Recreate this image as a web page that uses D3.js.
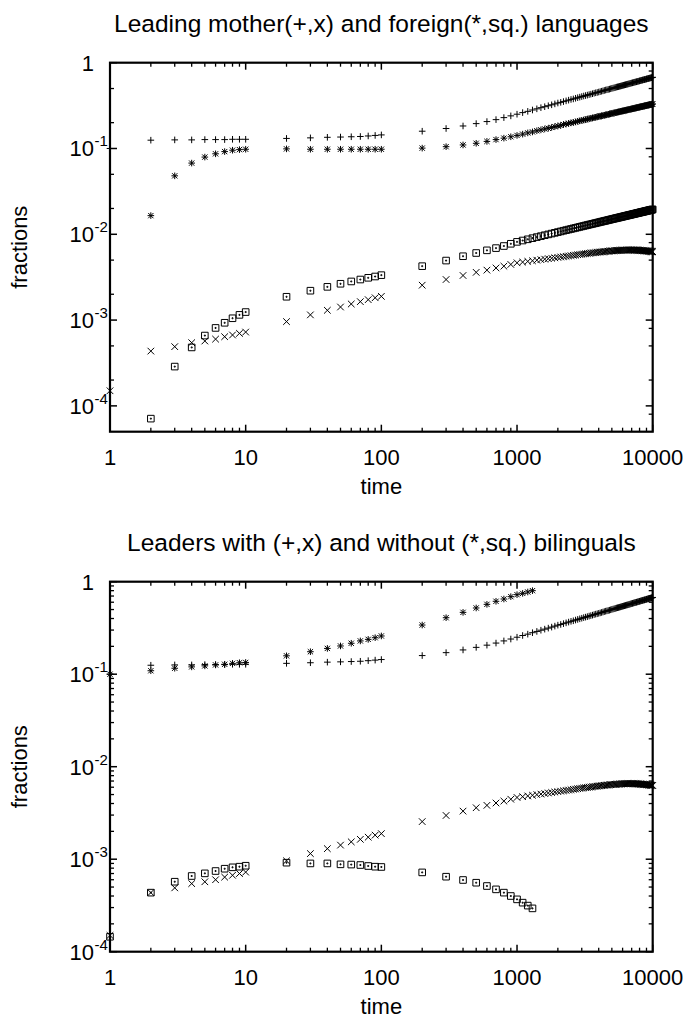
<!DOCTYPE html>
<html><head><meta charset="utf-8">
<script src="https://cdn.jsdelivr.net/npm/d3@7"></script>
<style>
body{margin:0;background:#fff}
text{font-family:"Liberation Sans",Arial,Helvetica,sans-serif;fill:#000}
</style>
</head><body>
<svg id="c" width="691" height="1023"></svg>
<script>
// ---------------- DATA ----------------
const times = [1,2,3,4,5,6,7,8,9,10,20,30,40,50,60,70,80,90,100,200,300,400,500,600,700,800,900,
1000,1100,1200,1300,1400,1500,1600,1700,1800,1900,2000,2100,2200,2300,2400,2500,2600,2700,2800,2900,
3000,3100,3200,3300,3400,3500,3600,3700,3800,3900,4000,4100,4200,4300,4400,4500,4600,4700,4800,4900,
5000,5100,5200,5300,5400,5500,5600,5700,5800,5900,6000,6100,6200,6300,6400,6500,6600,6700,6800,6900,
7000,7100,7200,7300,7400,7500,7600,7700,7800,7900,8000,8100,8200,8300,8400,8500,8600,8700,8800,8900,
9000,9100,9200,9300,9400,9500,9600,9700,9800,9900,10000];

// leading mother language (+) -- shared by both panels
const motherPlus = [0.1,0.125,0.126,0.126,0.127,0.127,0.127,0.128,0.128,0.128,
0.131,0.133,0.135,0.136,0.137,0.138,0.140,0.142,0.144,
0.159,0.171,0.183,0.195,0.206,0.217,0.229,0.240,
0.251,0.262,0.271,0.281,0.290,0.299,0.307,0.315,0.323,0.331,
0.339,0.345,0.352,0.359,0.366,0.373,0.378,0.385,0.391,0.397,
0.403,0.409,0.414,0.419,0.425,0.430,0.435,0.441,0.446,0.450,
0.455,0.460,0.465,0.470,0.475,0.480,0.484,0.488,0.492,0.497,
0.502,0.506,0.510,0.514,0.519,0.523,0.526,0.530,0.534,0.538,
0.542,0.546,0.550,0.554,0.558,0.561,0.565,0.568,0.572,0.576,
0.580,0.583,0.587,0.591,0.594,0.597,0.600,0.604,0.607,0.610,
0.614,0.617,0.621,0.624,0.627,0.631,0.633,0.636,0.639,0.642,
0.646,0.649,0.652,0.655,0.658,0.661,0.664,0.667,0.669,0.672,0.676];

// leading mother language (x) -- shared by both panels
const motherX = [1.5e-4,4.35e-4,4.9e-4,5.45e-4,5.7e-4,6.0e-4,6.4e-4,6.7e-4,7.0e-4,7.25e-4,
9.6e-4,1.15e-3,1.3e-3,1.42e-3,1.54e-3,1.64e-3,1.73e-3,1.82e-3,1.89e-3,
2.55e-3,2.97e-3,3.31e-3,3.6e-3,3.82e-3,4.05e-3,4.25e-3,4.45e-3,
4.65e-3,4.74e-3,4.83e-3,4.91e-3,4.99e-3,5.06e-3,5.13e-3,5.20e-3,5.26e-3,5.32e-3,
5.38e-3,5.44e-3,5.49e-3,5.54e-3,5.59e-3,5.64e-3,5.69e-3,5.73e-3,5.78e-3,5.82e-3,
5.86e-3,5.90e-3,5.94e-3,5.97e-3,6.01e-3,6.04e-3,6.07e-3,6.10e-3,6.13e-3,6.16e-3,
6.19e-3,6.21e-3,6.24e-3,6.26e-3,6.29e-3,6.31e-3,6.33e-3,6.35e-3,6.37e-3,6.39e-3,
6.41e-3,6.42e-3,6.44e-3,6.45e-3,6.47e-3,6.48e-3,6.49e-3,6.50e-3,6.51e-3,6.52e-3,
6.53e-3,6.54e-3,6.54e-3,6.55e-3,6.55e-3,6.56e-3,6.56e-3,6.56e-3,6.56e-3,6.56e-3,
6.56e-3,6.56e-3,6.55e-3,6.55e-3,6.54e-3,6.54e-3,6.53e-3,6.53e-3,6.52e-3,6.51e-3,
6.50e-3,6.49e-3,6.48e-3,6.47e-3,6.46e-3,6.45e-3,6.44e-3,6.43e-3,6.42e-3,6.41e-3,
6.40e-3,6.38e-3,6.37e-3,6.36e-3,6.35e-3,6.33e-3,6.32e-3,6.31e-3,6.29e-3,6.28e-3,6.27e-3];

// leading foreign language (*)
const foreignStar = [null,0.0165,0.048,0.0676,0.0794,0.0867,0.092,0.0955,0.097,0.098,
0.099,0.098,0.098,0.098,0.098,0.098,0.098,0.098,0.098,
0.101,0.105,0.110,0.115,0.121,0.127,0.132,0.137,
0.142,0.147,0.152,0.156,0.161,0.165,0.169,0.172,0.176,0.180,
0.183,0.186,0.190,0.193,0.196,0.199,0.201,0.204,0.207,0.210,
0.212,0.215,0.217,0.220,0.222,0.225,0.227,0.229,0.231,0.234,
0.236,0.238,0.240,0.242,0.244,0.246,0.248,0.250,0.252,0.254,
0.256,0.258,0.260,0.262,0.263,0.265,0.267,0.269,0.270,0.272,
0.274,0.275,0.277,0.278,0.280,0.282,0.283,0.285,0.286,0.288,
0.289,0.291,0.292,0.294,0.295,0.297,0.298,0.300,0.301,0.303,
0.304,0.305,0.307,0.308,0.309,0.311,0.312,0.313,0.315,0.316,
0.317,0.319,0.320,0.321,0.322,0.324,0.325,0.326,0.327,0.329,0.330];

// leading foreign language (squares)
const foreignSq = [null,7.1e-5,2.87e-4,4.8e-4,6.6e-4,8.1e-4,9.3e-4,1.05e-3,1.15e-3,1.24e-3,
1.87e-3,2.2e-3,2.44e-3,2.65e-3,2.82e-3,2.97e-3,3.11e-3,3.22e-3,3.34e-3,
4.25e-3,4.94e-3,5.55e-3,6.05e-3,6.5e-3,6.9e-3,7.3e-3,7.75e-3,
8.16e-3,8.46e-3,8.74e-3,9.01e-3,9.27e-3,9.51e-3,9.75e-3,9.97e-3,10.19e-3,10.40e-3,
10.61e-3,10.80e-3,11.00e-3,11.18e-3,11.36e-3,11.53e-3,11.71e-3,11.87e-3,12.04e-3,12.20e-3,
12.36e-3,12.51e-3,12.67e-3,12.81e-3,12.96e-3,13.09e-3,13.24e-3,13.38e-3,13.51e-3,13.64e-3,
13.78e-3,13.91e-3,14.04e-3,14.16e-3,14.28e-3,14.40e-3,14.52e-3,14.65e-3,14.76e-3,14.88e-3,
15.00e-3,15.11e-3,15.22e-3,15.33e-3,15.43e-3,15.54e-3,15.65e-3,15.75e-3,15.86e-3,15.96e-3,
16.06e-3,16.16e-3,16.26e-3,16.36e-3,16.46e-3,16.55e-3,16.65e-3,16.74e-3,16.84e-3,16.93e-3,
17.02e-3,17.11e-3,17.21e-3,17.29e-3,17.38e-3,17.48e-3,17.56e-3,17.65e-3,17.73e-3,17.82e-3,
17.91e-3,17.99e-3,18.07e-3,18.16e-3,18.23e-3,18.32e-3,18.40e-3,18.48e-3,18.55e-3,18.64e-3,
18.71e-3,18.80e-3,18.87e-3,18.95e-3,19.02e-3,19.10e-3,19.18e-3,19.25e-3,19.33e-3,19.40e-3,19.48e-3];

// leaders without bilinguals (bottom panel)
const timesShort = [1,2,3,4,5,6,7,8,9,10,20,30,40,50,60,70,80,90,100,
200,300,400,500,600,700,800,900,1000,1100,1200,1300];
const withoutStar = [0.1,0.109,0.116,0.12,0.123,0.126,0.128,0.131,0.133,0.134,
0.158,0.175,0.19,0.202,0.216,0.229,0.238,0.248,0.259,
0.34,0.408,0.466,0.52,0.569,0.614,0.65,0.689,0.724,0.748,0.774,0.8];
const withoutSq = [1.45e-4,4.35e-4,5.71e-4,6.58e-4,7.03e-4,7.45e-4,7.89e-4,8.17e-4,8.3e-4,8.5e-4,
9.17e-4,9.0e-4,9.0e-4,8.8e-4,8.75e-4,8.65e-4,8.44e-4,8.3e-4,8.24e-4,
7.2e-4,6.47e-4,5.96e-4,5.57e-4,5.13e-4,4.72e-4,4.35e-4,4.0e-4,3.68e-4,3.39e-4,3.15e-4,2.94e-4];

const xTickValues = [1,10,100,1000,10000];
const xTickLabels = ["1","10","100","1000","10000"];
const yExponents = [0,-1,-2,-3,-4];
const titles = ["Leading mother(+,x) and foreign(*,sq.) languages",
                "Leaders with (+,x) and without (*,sq.) bilinguals"];
const xLabel = "time", yLabel = "fractions";

// ---------------- DRAWING ----------------
const svg = d3.select("#c");
const L = 110, R = 652.7;
const x = d3.scaleLog().domain([1, 10000]).range([L, R]);

const panels = [
  {top: 62.7, bottom: 431.7, ydom: [5e-5, 1], minorL: [2,5], minorR: [2,5,8], title: titles[0],
   series: [
     {t: times, v: motherPlus, m: "plus"},
     {t: times, v: foreignStar, m: "star"},
     {t: times, v: foreignSq, m: "sq"},
     {t: times, v: motherX, m: "x"}]},
  {top: 581.7, bottom: 951.7, ydom: [1e-4, 1], minorL: [2,3,4,5,6,7,8,9], minorR: [2,3,4,5,6,7,8,9], title: titles[1],
   series: [
     {t: times, v: motherPlus, m: "plus"},
     {t: timesShort, v: withoutStar, m: "star"},
     {t: timesShort, v: withoutSq, m: "sq"},
     {t: times, v: motherX, m: "x"}]}
];

const r = 3.3;
const paths = {
  plus: `M${-r},0H${r}M0,${-r}V${r}`,
  x: `M${-r},${-r}L${r},${r}M${-r},${r}L${r},${-r}`,
  star: `M${-r},0H${r}M0,${-r}V${r}M${-r*0.8},${-r*0.8}L${r*0.8},${r*0.8}M${-r*0.8},${r*0.8}L${r*0.8},${-r*0.8}`,
  sq: `M${-r},${-r}H${r}V${r}H${-r}Z M-0.5,-0.5h1v1h-1Z`
};

panels.forEach(p => {
  const y = d3.scaleLog().domain(p.ydom).range([p.bottom, p.top]);
  const g = svg.append("g");

  // markers
  p.series.forEach(s => {
    const pts = s.t.map((t, i) => ({t, v: s.v[i]})).filter(d => d.v != null && d.v >= p.ydom[0]);
    g.selectAll(null).data(pts).enter().append("path")
      .attr("d", paths[s.m])
      .attr("transform", d => `translate(${x(d.t)},${y(d.v)})`)
      .attr("fill", "none").attr("stroke", "#000").attr("stroke-width", 1);
  });

  // x ticks
  const xMinor = [];
  for (let k = 0; k < 4; k++) for (let m = 2; m <= 9; m++) xMinor.push(m * Math.pow(10, k));
  const tickG = g.append("g").attr("stroke", "#000");
  xTickValues.forEach(v => {
    tickG.append("line").attr("x1", x(v)).attr("x2", x(v)).attr("y1", p.bottom).attr("y2", p.bottom - 7).attr("stroke-width", 1.5);
    tickG.append("line").attr("x1", x(v)).attr("x2", x(v)).attr("y1", p.top).attr("y2", p.top + 7).attr("stroke-width", 1.5);
  });
  xMinor.forEach(v => {
    tickG.append("line").attr("x1", x(v)).attr("x2", x(v)).attr("y1", p.bottom).attr("y2", p.bottom - 4).attr("stroke-width", 1.3);
    tickG.append("line").attr("x1", x(v)).attr("x2", x(v)).attr("y1", p.top).attr("y2", p.top + 4).attr("stroke-width", 1.3);
  });
  // y ticks
  const lo = Math.floor(Math.log10(p.ydom[0]));
  for (let k = lo; k <= 0; k++) {
    const base = Math.pow(10, k);
    if (base >= p.ydom[0] - 1e-12) {
      tickG.append("line").attr("x1", L).attr("x2", L + 7).attr("y1", y(base)).attr("y2", y(base)).attr("stroke-width", 1.5);
      tickG.append("line").attr("x1", R).attr("x2", R - 7).attr("y1", y(base)).attr("y2", y(base)).attr("stroke-width", 1.5);
    }
    if (k < 0) {
      p.minorL.forEach(m => { const v = m * base; if (v > p.ydom[0] && v < 1)
        tickG.append("line").attr("x1", L).attr("x2", L + 4).attr("y1", y(v)).attr("y2", y(v)).attr("stroke-width", 1.3); });
      p.minorR.forEach(m => { const v = m * base; if (v > p.ydom[0] && v < 1)
        tickG.append("line").attr("x1", R).attr("x2", R - 4).attr("y1", y(v)).attr("y2", y(v)).attr("stroke-width", 1.3); });
    }
  }

  // frame
  g.append("rect").attr("x", L).attr("y", p.top).attr("width", R - L).attr("height", p.bottom - p.top)
    .attr("fill", "none").attr("stroke", "#000").attr("stroke-width", 2.2);

  // x tick labels
  xTickValues.forEach((v, i) => {
    g.append("text").attr("x", x(v)).attr("y", p.bottom + 33).attr("text-anchor", "middle")
      .attr("font-size", 22).text(xTickLabels[i]);
  });
  // y tick labels
  yExponents.forEach(e => {
    const v = Math.pow(10, e);
    if (v < p.ydom[0]) return;
    if (e === 0) {
      g.append("text").attr("x", 94).attr("y", y(v) + 8).attr("text-anchor", "end").attr("font-size", 22).text("1");
    } else {
      g.append("text").attr("x", 94).attr("y", y(v) + 8).attr("text-anchor", "end").attr("font-size", 22).text("10");
      g.append("text").attr("x", 94.5).attr("y", y(v) - 2).attr("text-anchor", "start").attr("font-size", 15).text(String(e));
    }
  });

  // title and axis labels
  g.append("text").attr("x", (L + R) / 2).attr("y", p.top - 31).attr("text-anchor", "middle")
    .attr("font-size", 24.5).text(p.title);
  g.append("text").attr("x", (L + R) / 2).attr("y", p.bottom + 62).attr("text-anchor", "middle")
    .attr("font-size", 22).text(xLabel);
  g.append("text").attr("transform", `translate(27,${(p.top + p.bottom) / 2}) rotate(-90)`)
    .attr("text-anchor", "middle").attr("font-size", 22).text(yLabel);
});
</script>
</body></html>
